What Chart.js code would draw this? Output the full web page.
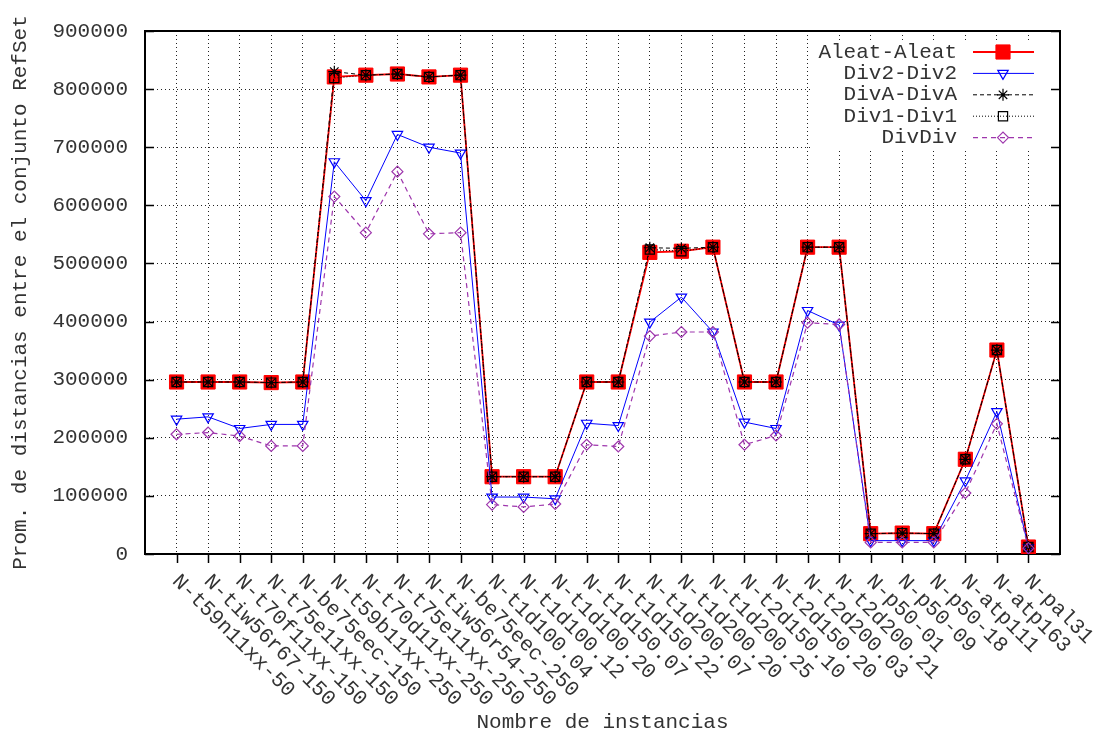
<!DOCTYPE html>
<html>
<head>
<meta charset="utf-8">
<script src="https://cdn.jsdelivr.net/npm/chart.js@4/dist/chart.umd.min.js"></script>
<style>
  html, body { margin: 0; padding: 0; background: #fff; }
  #wrap { width: 1093px; height: 735px; }
</style>
</head>
<body>
<div id="wrap"><canvas id="c" width="1093" height="735"></canvas></div>
<script>
// Instances on the x axis
const categories = [
  'N-t59n11xx-50', 'N-tiw56r67-150', 'N-t70f11xx-150', 'N-t75e11xx-150', 'N-be75eec-150',
  'N-t59b11xx-250', 'N-t70d11xx-250', 'N-t75e11xx-250', 'N-tiw56r54-250', 'N-be75eec-250',
  'N-t1d100.04', 'N-t1d100.12', 'N-t1d100.20', 'N-t1d150.07', 'N-t1d150.22',
  'N-t1d200.07', 'N-t1d200.20', 'N-t1d200.25', 'N-t2d150.10', 'N-t2d150.20',
  'N-t2d200.03', 'N-t2d200.21', 'N-p50-01', 'N-p50-09', 'N-p50-18',
  'N-atp111', 'N-atp163', 'N-pal31'
];

// Average distance within the RefSet, per combination method
const aleatAleat = [296000, 296000, 296000, 295000, 296000, 821000, 824000, 826000, 821000, 824000,
  133000, 133000, 133000, 296000, 296000, 519000, 521000, 528000, 296000, 296000,
  528000, 528000, 35000, 36000, 35000, 163000, 351000, 12000];
const div2Div2 = [232000, 236000, 216000, 223000, 223000, 675000, 608000, 722000, 700000, 690000,
  98000, 98000, 95000, 225000, 221000, 399000, 442000, 382000, 227000, 216000,
  419000, 394000, 23000, 23000, 23000, 126000, 245000, 11000];
const divADivA = [296000, 296000, 296000, 295000, 296000, 830000, 824000, 826000, 821000, 824000,
  133000, 133000, 133000, 296000, 296000, 527000, 526000, 528000, 296000, 296000,
  528000, 528000, 35000, 36000, 35000, 163000, 351000, 12000];
const div1Div1 = [296000, 296000, 296000, 295000, 296000, 819000, 824000, 826000, 821000, 824000,
  133000, 133000, 133000, 296000, 296000, 524000, 521000, 528000, 296000, 296000,
  528000, 528000, 35000, 36000, 35000, 163000, 351000, 12000];
const divDiv = [206000, 209000, 203000, 186000, 186000, 615000, 553000, 658000, 551000, 553000,
  85000, 81000, 86000, 188000, 185000, 375000, 382000, 382000, 188000, 204000,
  398000, 395000, 20000, 20000, 20000, 105000, 224000, 10000];

// Y axis tick values
const yTickValues = [0, 100000, 200000, 300000, 400000, 500000, 600000, 700000, 800000, 900000];

const FONT = "'Liberation Mono', 'DejaVu Sans Mono', monospace";
const FONT_SIZE = 21;
const TEXT_COLOR = '#333';

const toPoints = arr => arr.map((v, i) => ({ x: i, y: v }));

// Frame, inner/outer tick marks, rotated category labels and the key box
const decorations = {
  id: 'decorations',
  beforeDatasetsDraw(chart) {
    const { ctx, chartArea: a, scales } = chart;
    ctx.save();
    ctx.strokeStyle = '#000';
    ctx.setLineDash([]);
    // y ticks, pointing inwards on both sides
    ctx.lineWidth = 1.5;
    scales.y.ticks.forEach(t => {
      const y = Math.round(scales.y.getPixelForValue(t.value)) + 0.5;
      ctx.beginPath();
      ctx.moveTo(a.left, y); ctx.lineTo(a.left + 9, y);
      ctx.moveTo(a.right, y); ctx.lineTo(a.right - 9, y);
      ctx.stroke();
    });
    // x ticks, pointing outwards below the axis
    categories.forEach((c, i) => {
      const x = Math.round(scales.x.getPixelForValue(i)) + 0.5;
      ctx.beginPath();
      ctx.moveTo(x, a.bottom); ctx.lineTo(x, a.bottom + 9);
      ctx.stroke();
    });
    // border
    ctx.lineWidth = 2;
    ctx.strokeRect(a.left, a.top, a.right - a.left, a.bottom - a.top);
    ctx.restore();
  },
  afterDatasetsDraw(chart) {
    const { ctx, chartArea: a, scales } = chart;
    ctx.save();
    // category labels, rotated clockwise and starting at their tick
    ctx.font = FONT_SIZE + 'px ' + FONT;
    ctx.fillStyle = TEXT_COLOR;
    ctx.textAlign = 'left';
    ctx.textBaseline = 'middle';
    categories.forEach((c, i) => {
      const x = scales.x.getPixelForValue(i);
      ctx.save();
      ctx.translate(x - 1, a.bottom + 24);
      ctx.rotate(Math.PI / 4);
      ctx.fillText(c, 0, 0);
      ctx.restore();
    });

    // key box in the upper right corner
    ctx.fillStyle = '#fff';
    ctx.fillRect(a.right - 248, a.top + 9, 238, 108);
    const textX = a.right - 103;
    const lineX1 = a.right - 87, lineX2 = a.right - 26, markX = a.right - 57;
    chart.data.datasets.forEach((ds, i) => {
      const y = a.top + 21 + i * 21.4;
      ctx.fillStyle = TEXT_COLOR;
      ctx.textAlign = 'right';
      ctx.fillText(ds.label, textX, y);
      ctx.strokeStyle = ds.borderColor;
      ctx.lineWidth = ds.borderWidth;
      ctx.setLineDash(ds.borderDash || []);
      ctx.beginPath();
      ctx.moveTo(lineX1, y); ctx.lineTo(lineX2, y);
      ctx.stroke();
      ctx.setLineDash([]);
      ctx.fillStyle = ds.pointBackgroundColor;
      ctx.strokeStyle = ds.pointBorderColor;
      ctx.lineWidth = ds.pointBorderWidth;
      Chart.helpers.drawPoint(ctx, {
        pointStyle: ds.pointStyle,
        rotation: ds.pointRotation || 0,
        radius: ds.pointRadius,
        borderWidth: ds.pointBorderWidth
      }, markX, y);
    });
    ctx.restore();
  }
};

new Chart(document.getElementById('c'), {
  type: 'line',
  data: {
    datasets: [
      {
        label: 'Aleat-Aleat', data: toPoints(aleatAleat), order: 5,
        borderColor: '#ff0000', borderWidth: 1.8, borderDash: [],
        pointStyle: 'rect', pointRadius: 10, pointBorderWidth: 1,
        pointBackgroundColor: '#ff0000', pointBorderColor: '#ff0000'
      },
      {
        label: 'Div2-Div2', data: toPoints(div2Div2), order: 4,
        borderColor: '#0000ff', borderWidth: 1, borderDash: [],
        pointStyle: 'triangle', pointRotation: 180, pointRadius: 6, pointBorderWidth: 1.2,
        pointBackgroundColor: 'rgba(0,0,0,0)', pointBorderColor: '#0000ff'
      },
      {
        label: 'DivA-DivA', data: toPoints(divADivA), order: 3,
        borderColor: '#000000', borderWidth: 1, borderDash: [4, 3],
        pointStyle: 'star', pointRadius: 6, pointBorderWidth: 1.2,
        pointBackgroundColor: 'rgba(0,0,0,0)', pointBorderColor: '#000000'
      },
      {
        label: 'Div1-Div1', data: toPoints(div1Div1), order: 2,
        borderColor: '#000000', borderWidth: 1, borderDash: [1, 2],
        pointStyle: 'rect', pointRadius: 6.5, pointBorderWidth: 1.2,
        pointBackgroundColor: 'rgba(0,0,0,0)', pointBorderColor: '#000000'
      },
      {
        label: 'DivDiv', data: toPoints(divDiv), order: 1,
        borderColor: '#9e36ad', borderWidth: 1.2, borderDash: [5, 4],
        pointStyle: 'rectRot', pointRadius: 5.5, pointBorderWidth: 1.2,
        pointBackgroundColor: 'rgba(0,0,0,0)', pointBorderColor: '#9e36ad'
      }
    ]
  },
  options: {
    responsive: false,
    animation: false,
    devicePixelRatio: 1,
    layout: { padding: { left: 0, right: 33, top: 31, bottom: 0 } },
    elements: { line: { tension: 0 } },
    plugins: { legend: { display: false }, tooltip: { enabled: false } },
    scales: {
      x: {
        type: 'linear', min: -1, max: categories.length,
        afterFit: s => { s.height = 181; },
        ticks: { display: false, stepSize: 1 },
        grid: { color: '#222', lineWidth: 1, drawTicks: false },
        border: { display: false, dash: [1, 3] },
        title: {
          display: true, text: 'Nombre de instancias', color: TEXT_COLOR,
          font: { family: FONT, size: FONT_SIZE }, padding: { top: 0, bottom: 0 }
        }
      },
      y: {
        type: 'linear', min: yTickValues[0], max: yTickValues[yTickValues.length - 1],
        afterFit: s => { s.width = 145; },
        afterBuildTicks: s => { s.ticks = yTickValues.map(v => ({ value: v })); },
        ticks: {
          padding: 17, color: TEXT_COLOR, font: { family: FONT, size: FONT_SIZE },
          callback: v => String(v)
        },
        grid: { color: '#222', lineWidth: 1, drawTicks: false },
        border: { display: false, dash: [1, 3] },
        title: {
          display: true, text: 'Prom. de distancias entre el conjunto RefSet', color: TEXT_COLOR,
          font: { family: FONT, size: FONT_SIZE }, padding: { top: 8, bottom: 0 }
        }
      }
    }
  },
  plugins: [decorations]
});
</script>
</body>
</html>
